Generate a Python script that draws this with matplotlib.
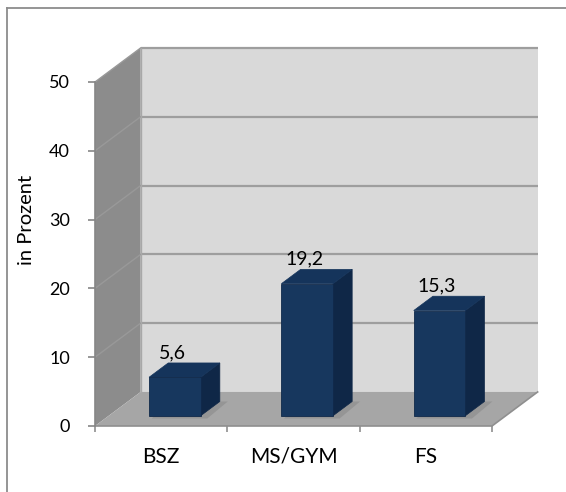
import matplotlib.pyplot as plt
from matplotlib.patches import Polygon, Rectangle
from matplotlib.lines import Line2D

# Anteile je Schulart (in Prozent)
categories = ['BSZ', 'MS/GYM', 'FS']
values = [5.6, 19.2, 15.3]
value_labels = ['5,6', '19,2', '15,3']
y_ticks = [0, 10, 20, 30, 40, 50]

plt.rcParams['font.family'] = ['Lato', 'DejaVu Sans']

W, H = 566, 492
fig = plt.figure(figsize=(W / 100, H / 100), dpi=100)
fig.patch.set_facecolor('white')

# Vorderebene des 3D-Diagramms
ax = fig.add_axes([95 / W, 66 / H, 397 / W, 344 / H])
ax.set_xlim(-0.5, 2.5)
ax.set_ylim(0, 50)
ax.patch.set_visible(False)

# Tiefenversatz (Rückwand gegenüber Vorderebene) in Datenkoordinaten
DX, DY = 0.345, 4.95
x_lo, x_hi = -0.5, 2.5
y_max = y_ticks[-1]

wall_back = '#d9d9d9'
wall_side = '#8c8c8c'
floor_col = '#a6a6a6'
grid_col = '#9e9e9e'

# Rückwand
ax.add_patch(Polygon([(x_lo + DX, DY), (x_hi + DX, DY), (x_hi + DX, y_max + DY),
                      (x_lo + DX, y_max + DY)], closed=True, facecolor=wall_back,
                     edgecolor='none', clip_on=False, zorder=1))
# Seitenwand
ax.add_patch(Polygon([(x_lo, 0), (x_lo + DX, DY), (x_lo + DX, y_max + DY), (x_lo, y_max)],
                     closed=True, facecolor=wall_side, edgecolor='none', clip_on=False, zorder=1))
# Boden
ax.add_patch(Polygon([(x_lo, 0), (x_hi, 0), (x_hi + DX, DY), (x_lo + DX, DY)],
                     closed=True, facecolor=floor_col, edgecolor='none', clip_on=False, zorder=2))

# Gitterlinien auf Rück- und Seitenwand
for t in y_ticks[1:]:
    ax.plot([x_lo + DX, x_hi + DX], [t + DY, t + DY], color=grid_col, lw=1.6,
            clip_on=False, zorder=3, solid_capstyle='butt')
    ax.plot([x_lo, x_lo + DX], [t, t + DY], color='#999999', lw=1.0,
            clip_on=False, zorder=3)
ax.plot([x_lo + DX, x_lo + DX], [DY, y_max + DY], color='#a8a8a8', lw=1.0,
        clip_on=False, zorder=3)

# Vorderkante des Bodens und rechte Seitenkante
ax.plot([x_lo, x_hi, x_hi + DX], [0, 0, DY], color='#8f8f8f', lw=1.2,
        clip_on=False, zorder=4)

# Säulen
bar_w = 0.39
d0, d1 = 0.3, 0.72
front_col = '#17375e'
top_col = '#15345b'
side_col = '#0f2747'
for i, v in enumerate(values):
    x0 = i - bar_w / 2 + DX * d0
    y0 = DY * d0
    ddx, ddy = DX * (d1 - d0), DY * (d1 - d0)
    # Schatten auf dem Boden
    ax.add_patch(Polygon([(x0 + 0.02, y0 - 0.4), (x0 + bar_w + 0.05, y0 - 0.4),
                          (x0 + bar_w + ddx + 0.06, y0 + ddy), (x0 + ddx, y0 + ddy)],
                         closed=True, facecolor='#8a8a8a', edgecolor='none',
                         clip_on=False, zorder=4, alpha=0.6))
    ax.add_patch(Polygon([(x0 + bar_w, y0), (x0 + bar_w + ddx, y0 + ddy),
                          (x0 + bar_w + ddx, y0 + v + ddy), (x0 + bar_w, y0 + v)],
                         closed=True, facecolor=side_col, edgecolor=side_col, lw=0.5,
                         clip_on=False, zorder=5))
    ax.add_patch(Polygon([(x0, y0 + v), (x0 + bar_w, y0 + v),
                          (x0 + bar_w + ddx, y0 + v + ddy), (x0 + ddx, y0 + v + ddy)],
                         closed=True, facecolor=top_col, edgecolor=top_col, lw=0.5,
                         clip_on=False, zorder=5))
    ax.add_patch(Rectangle((x0, y0), bar_w, v, facecolor=front_col, edgecolor='#10294a',
                           lw=0.6, clip_on=False, zorder=6))
    ax.text(x0 + bar_w / 2 - 0.02, y0 + v + ddy + 1.5, value_labels[i], ha='center',
            va='center', fontsize=14, color='black', zorder=7)

# Achsen
for s in ['top', 'right', 'bottom']:
    ax.spines[s].set_visible(False)
ax.spines['left'].set_color('#868686')
ax.spines['left'].set_linewidth(1.2)
ax.spines['left'].set_zorder(4)

ax.set_yticks(y_ticks)
ax.set_yticklabels([str(t) for t in y_ticks])
ax.tick_params(axis='y', direction='out', length=5, width=1.2, color='#868686',
               pad=13, labelsize=13, labelcolor='black')

ax.set_xticks([-0.5, 0.5, 1.5, 2.5])
ax.set_xticklabels([])
ax.set_xticks(range(len(categories)), minor=True)
ax.set_xticklabels(categories, minor=True)
ax.tick_params(axis='x', which='major', direction='out', length=4, width=1.2,
               color='#8f8f8f')
ax.tick_params(axis='x', which='minor', length=0, pad=15, labelsize=15,
               labelcolor='black')

fig.text(27 / W, 1 - 220 / H, 'in Prozent', rotation=90, ha='center', va='center',
         fontsize=14.5, color='black')

# Rahmen des Diagrammbereichs
fig.add_artist(Line2D([7 / W, 7 / W], [0, 1 - 8 / H], transform=fig.transFigure,
                      color='#8c8c8c', lw=1.3))
fig.add_artist(Line2D([7 / W, 1], [1 - 8 / H, 1 - 8 / H], transform=fig.transFigure,
                      color='#8c8c8c', lw=1.3))

fig.savefig('out.png', dpi=100)
